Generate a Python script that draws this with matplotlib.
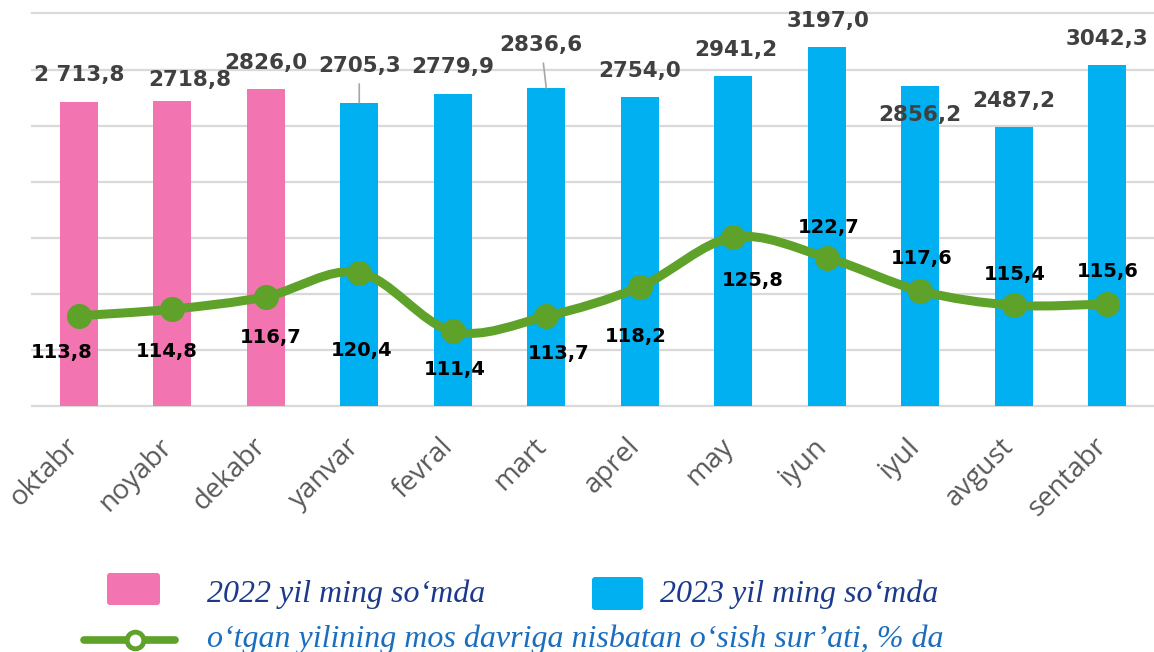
import numpy as np
import matplotlib
matplotlib.use("Agg")
import matplotlib.pyplot as plt
from matplotlib.path import Path
from matplotlib.patches import PathPatch, FancyBboxPatch
from matplotlib.lines import Line2D
from matplotlib.transforms import ScaledTranslation

# data
months = ['oktabr', 'noyabr', 'dekabr', 'yanvar', 'fevral', 'mart',
          'aprel', 'may', 'iyun', 'iyul', 'avgust', 'sentabr']
income = [2713.8, 2718.8, 2826.0, 2705.3, 2779.9, 2836.6,
          2754.0, 2941.2, 3197.0, 2856.2, 2487.2, 3042.3]
income_labels = ['2 713,8', '2718,8', '2826,0', '2705,3', '2779,9', '2836,6',
                 '2754,0', '2941,2', '3197,0', '2856,2', '2487,2', '3042,3']
growth = [113.8, 114.8, 116.7, 120.4, 111.4, 113.7,
          118.2, 125.8, 122.7, 117.6, 115.4, 115.6]
year_of_bar = [2022, 2022, 2022, 2023, 2023, 2023,
               2023, 2023, 2023, 2023, 2023, 2023]

legend_2022 = '2022 yil ming so‘mda'
legend_2023 = '2023 yil ming so‘mda'
legend_line = 'o‘tgan yilining mos davriga nisbatan o‘sish sur’ati, % da'

PINK = '#F274B1'
BLUE = '#00B0F0'
GREEN = '#5EA22A'

# label offsets in pixels (dx, dy up) - matched by eye
bar_off = [(0, 27), (18, 21), (0, 26), (0, 37), (0, 27), (-5, 43),
           (0, 26), (3, 26), (1, 26), (0, -29), (0, 26), (0, 26)]
line_off = [(-17, -37), (-5, -42), (5, -41), (2, -78), (2, -38), (12, -37),
            (-4, -50), (20, -43), (2, 30), (1, 32), (1, 31), (1, 32)]

W, H = 1154, 652
fig = plt.figure(figsize=(W / 100, H / 100), dpi=100)
ax = fig.add_axes([32 / W, 246 / H, 1 - 32 / W, (406 - 13.5) / H])

x = np.arange(len(months))
colors = [PINK if y == 2022 else BLUE for y in year_of_bar]
ax.bar(x, income, width=0.405, color=colors, zorder=2)
ax.set_xlim(-0.5, len(months) - 0.5)
ax.set_ylim(0, 3500)
ax.set_yticks(np.arange(0, 3501, 500))
ax.yaxis.grid(True, color='#D9D9D9', lw=1.6, zorder=0)
for gl in ax.get_ygridlines():
    gl.set_clip_on(False)
ax.set_axisbelow(True)
ax.tick_params(axis='y', length=0, labelleft=False)
ax.tick_params(axis='x', length=0, pad=19)
ax.set_xticks(x)
ax.set_xticklabels(months, rotation=45, ha='right', va='top',
                   fontsize=20, family='Open Sans', color='#595959')
shift = ScaledTranslation(6 / 100, 0, fig.dpi_scale_trans)
for t in ax.get_xticklabels():
    t.set_transform(t.get_transform() + shift)
for s in ax.spines.values():
    s.set_visible(False)

for i, (v, lab) in enumerate(zip(income, income_labels)):
    dx, dy = bar_off[i]
    arrow = None
    if i in (3, 5):
        arrow = dict(arrowstyle='-', color='#A6A6A6', lw=1.2, shrinkA=4, shrinkB=0)
    ax.annotate(lab, (i, v), xytext=(dx, dy), textcoords='offset pixels',
                ha='center', va='center', fontsize=15.5, fontweight='bold',
                color='#404040', arrowprops=arrow, zorder=3)

# growth line on secondary axis, smoothed like Excel
ax2 = ax.twinx()
ax2.set_ylim(100, 160)
ax2.set_axis_off()

pts = np.column_stack([x, growth]).astype(float)
verts = [pts[0]]
codes = [Path.MOVETO]
n = len(pts)
for i in range(n - 1):
    p0 = pts[i - 1] if i > 0 else pts[i]
    p1 = pts[i]
    p2 = pts[i + 1]
    p3 = pts[i + 2] if i + 2 < n else pts[i + 1]
    c1 = p1 + (p2 - p0) / 6
    c2 = p2 - (p3 - p1) / 6
    verts += [c1, c2, p2]
    codes += [Path.CURVE4] * 3
ax2.add_patch(PathPatch(Path(verts, codes), fill=False, edgecolor=GREEN,
                        lw=6.5, capstyle='round', joinstyle='round', zorder=4))
ax2.plot(x, growth, ls='none', marker='o', ms=17, color=GREEN, zorder=5)

for i, v in enumerate(growth):
    dx, dy = line_off[i]
    ax2.annotate(f'{v:.1f}'.replace('.', ','), (i, v), xytext=(dx, dy),
                 textcoords='offset pixels', ha='center', va='center',
                 fontsize=14, fontweight='bold', color='black', zorder=6)

# legend drawn in pixel space
lg = fig.add_axes([0, 0, 1, 1])
lg.set_xlim(0, W)
lg.set_ylim(H, 0)
lg.set_axis_off()
lg.add_patch(FancyBboxPatch((107, 573), 53, 32, boxstyle='round,pad=0,rounding_size=3',
                            facecolor=PINK, edgecolor='none'))
lg.add_patch(FancyBboxPatch((592, 577), 51, 33, boxstyle='round,pad=0,rounding_size=3',
                            facecolor=BLUE, edgecolor='none'))
lg.add_line(Line2D([84, 175], [640, 640], color=GREEN, lw=5.5, solid_capstyle='round'))
lg.plot([135], [640], marker='o', ms=12, mfc='white', mec=GREEN, mew=3.5)
lfont = dict(family='Liberation Serif', style='italic', fontsize=23)
lg.text(207, 602, legend_2022, color='#1B3A8C', va='baseline', **lfont)
lg.text(660, 602, legend_2023, color='#1B3A8C', va='baseline', **lfont)
lg.text(207, 647, legend_line, color='#1A6EBF', va='baseline', **lfont)

fig.savefig('out.png', dpi=100)
